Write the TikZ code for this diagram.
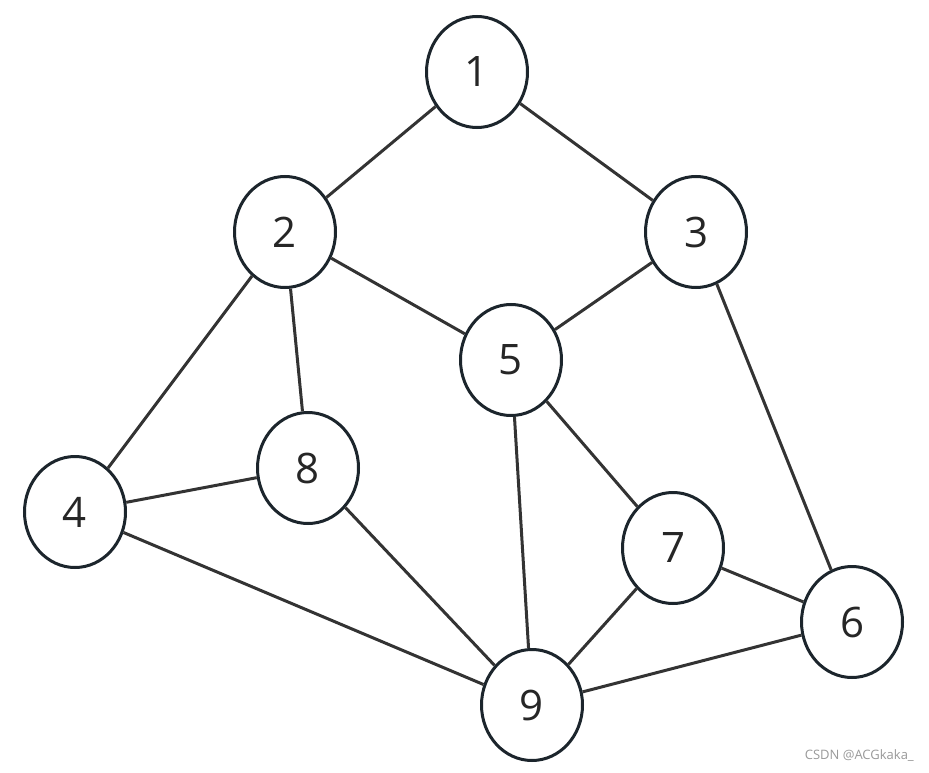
\documentclass[tikz,border=0pt]{standalone}
\usepackage{fontspec}
\setmainfont{Open Sans}
\usetikzlibrary{shapes.geometric}
\definecolor{ringc}{HTML}{1C252C}
\definecolor{edgec}{HTML}{333333}
\definecolor{wmc}{HTML}{999999}
\tikzset{
  vtx/.style={ellipse, draw=ringc, line width=3pt, fill=white, minimum width=101pt, minimum height=111pt, inner sep=0pt, text=black!85, font=\fontsize{42}{42}\selectfont},
  link/.style={draw=edgec, line width=3pt}
}
\begin{document}
\begin{tikzpicture}[x=1pt,y=1pt]
\useasboundingbox (0,0) rectangle (929,-773);
\node[vtx] (n1) at (477,-72) {1};
\node[vtx] (n2) at (285,-232) {2};
\node[vtx] (n3) at (696,-232) {3};
\node[vtx] (n5) at (511,-360) {5};
\node[vtx] (n8) at (308,-468) {8};
\node[vtx] (n4) at (75,-512) {4};
\node[vtx] (n7) at (673,-548) {7};
\node[vtx] (n6) at (852,-622) {6};
\node[vtx] (n9) at (532,-705) {9};
\begin{scope}[on background layer/.try]
\end{scope}
\path[link] (n1) -- (n2);
\path[link] (n1) -- (n3);
\path[link] (n2) -- (n5);
\path[link] (n3) -- (n5);
\path[link] (n2) -- (n4);
\path[link] (n2) -- (n8);
\path[link] (n3) -- (n6);
\path[link] (n5) -- (n7);
\path[link] (n5) -- (n9);
\path[link] (n4) -- (n8);
\path[link] (n4) -- (n9);
\path[link] (n8) -- (n9);
\path[link] (n7) -- (n9);
\path[link] (n7) -- (n6);
\path[link] (n6) -- (n9);
\node[text=wmc, font=\fontsize{13}{13}\selectfont, anchor=east, inner sep=0pt] (wm) at (914,-756) {CSDN @ACGkaka\_};
\end{tikzpicture}
\end{document}
